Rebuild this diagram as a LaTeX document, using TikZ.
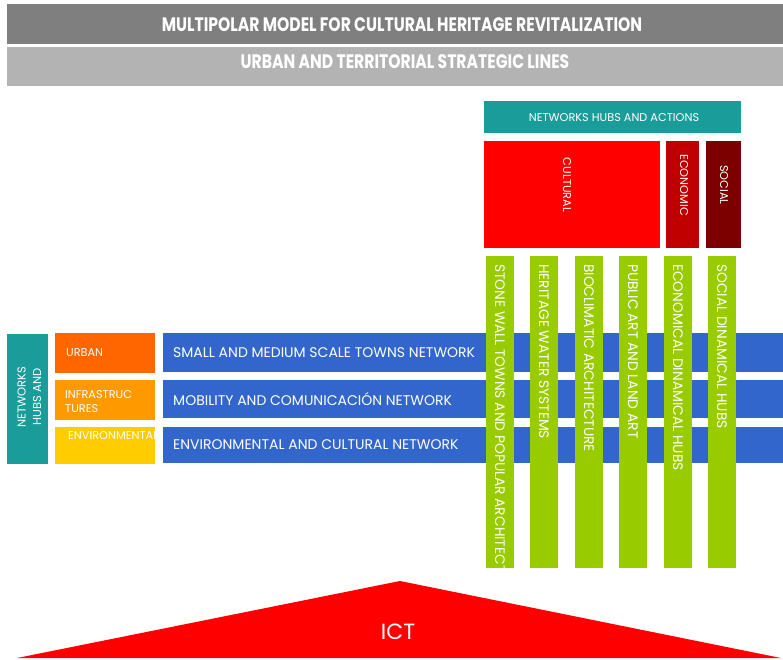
\documentclass[tikz,border=0pt]{standalone}
\usepackage{fontspec}
\setmainfont{Poppins}
\newfontfamily\condfont[FakeStretch=0.8]{Poppins}
\usepackage{xcolor}
\usepackage{tikz}

\definecolor{titlegray}{HTML}{7F7F7F}
\definecolor{subgray}{HTML}{B3B3B3}
\definecolor{hubteal}{HTML}{1A9C9A}
\definecolor{cultred}{HTML}{FF0000}
\definecolor{econred}{HTML}{C00000}
\definecolor{socred}{HTML}{7C0000}
\definecolor{linegreen}{HTML}{99CC00}
\definecolor{netblue}{HTML}{3366CC}
\definecolor{urbanorange}{HTML}{FF6600}
\definecolor{infraorange}{HTML}{FF9900}
\definecolor{envyellow}{HTML}{FFCC00}

\begin{document}
\begin{tikzpicture}[x=1pt, y=-1pt,
  blk/.style={draw=none, inner sep=0, anchor=north west},
  wtxt/.style={text=white, inner sep=0},
  headtxt/.style={wtxt, font=\condfont\bfseries\fontsize{19.5}{19.5}\selectfont},
  rowtxt/.style={wtxt, font=\fontsize{14}{14}\selectfont, anchor=west},
  bartxt/.style={wtxt, font=\fontsize{13.8}{13.8}\selectfont, rotate=-90, anchor=west},
  smalltxt/.style={wtxt, font=\fontsize{11.3}{14}\selectfont}]
\useasboundingbox (0,0) rectangle (783,659);

% header
\node[blk, fill=titlegray, minimum width=776, minimum height=40] (title) at (7,4) {};
\node[headtxt] (titlelbl) at (402,25) {MULTIPOLAR MODEL FOR CULTURAL HERITAGE REVITALIZATION};
\node[blk, fill=subgray, minimum width=776, minimum height=39] (sub) at (7,47) {};
\node[headtxt] (sublbl) at (405,62) {URBAN AND TERRITORIAL STRATEGIC LINES};

% hubs and actions
\node[blk, fill=hubteal, minimum width=257, minimum height=32] (hubs) at (484,101) {};
\node[smalltxt] (hubslbl) at (614,118) {NETWORKS HUBS AND ACTIONS};
\node[blk, fill=cultred, minimum width=176, minimum height=107] (cult) at (484,141) {};
\node[smalltxt, rotate=-90] (cultlbl) at (567,185) {CULTURAL};
\node[blk, fill=econred, minimum width=33, minimum height=107] (econ) at (666,141) {};
\node[smalltxt, rotate=-90] (econlbl) at (684,185) {ECONOMIC};
\node[blk, fill=socred, minimum width=35, minimum height=107] (soc) at (706,141) {};
\node[smalltxt, rotate=-90] (soclbl) at (724,185) {SOCIAL};

% networks rows
\node[blk, fill=netblue, minimum width=620, minimum height=39] (towns) at (163,333) {};
\node[rowtxt] (townslbl) at (173,352.5) {SMALL AND MEDIUM SCALE TOWNS NETWORK};
\node[blk, fill=netblue, minimum width=620, minimum height=38] (mobil) at (163,380) {};
\node[rowtxt] (mobillbl) at (173,399) {MOBILITY AND COMUNICACIÓN NETWORK};
\node[blk, fill=netblue, minimum width=620, minimum height=36] (envnet) at (163,427) {};
\node[rowtxt] (envnetlbl) at (173,445) {ENVIRONMENTAL AND CULTURAL NETWORK};

% left side
\node[blk, fill=hubteal, minimum width=41, minimum height=130] (lhubs) at (7,334) {};
\node[smalltxt, font=\fontsize{11.5}{15.5}\selectfont, rotate=90, align=center] (lhubslbl) at (37,397) {NETWORKS\\HUBS AND\\ACTIONS};
\node[blk, fill=urbanorange, minimum width=100, minimum height=40] (urban) at (55,333) {};
\node[smalltxt, anchor=west] (urbanlbl) at (66,353) {URBAN};
\node[blk, fill=infraorange, minimum width=100, minimum height=40] (infra) at (55,380) {};
\node[smalltxt, anchor=west, align=left] (infralbl) at (65,402) {INFRASTRUC\\TURES};
\node[blk, fill=envyellow, minimum width=100, minimum height=37] (env) at (55,427) {};
\begin{scope}
\clip (55,427) rectangle (158,464);
\node[smalltxt, anchor=west] (envlbl) at (68,436) {ENVIRONMENTAL};
\end{scope}

% strategic lines
\node[blk, fill=linegreen, minimum width=28, minimum height=312] (stone) at (486,256) {};
\begin{scope}
\clip (486,256) rectangle (514,572);
\node[bartxt] (stonelbl) at (500,264) {STONE WALL TOWNS AND POPULAR ARCHITECTURE};
\end{scope}
\node[blk, fill=linegreen, minimum width=28, minimum height=312] (water) at (530,256) {};
\node[bartxt] (waterlbl) at (544,264) {HERITAGE WATER SYSTEMS};
\node[blk, fill=linegreen, minimum width=28, minimum height=312] (bioclim) at (575,256) {};
\node[bartxt] (bioclimlbl) at (589,264) {BIOCLIMATIC ARCHITECTURE};
\node[blk, fill=linegreen, minimum width=28, minimum height=312] (publart) at (619,256) {};
\node[bartxt] (publartlbl) at (633,264) {PUBLIC ART AND LAND ART};
\node[blk, fill=linegreen, minimum width=28, minimum height=312] (econhubs) at (664,256) {};
\node[bartxt] (econhubslbl) at (678,264) {ECONOMICAL DINAMICAL HUBS};
\node[blk, fill=linegreen, minimum width=28, minimum height=312] (sochubs) at (708,256) {};
\node[bartxt] (sochubslbl) at (722,264) {SOCIAL DINAMICAL HUBS};

% ict
\coordinate (ictapex) at (400,581);
\coordinate (ictright) at (781,658);
\coordinate (ictleft) at (17,658);
\fill[cultred] (ictapex) -- (ictright) -- (ictleft) -- cycle;
\node[wtxt, font=\fontsize{22}{22}\selectfont] (ictlbl) at (398,632) {ICT};
\end{tikzpicture}
\end{document}
